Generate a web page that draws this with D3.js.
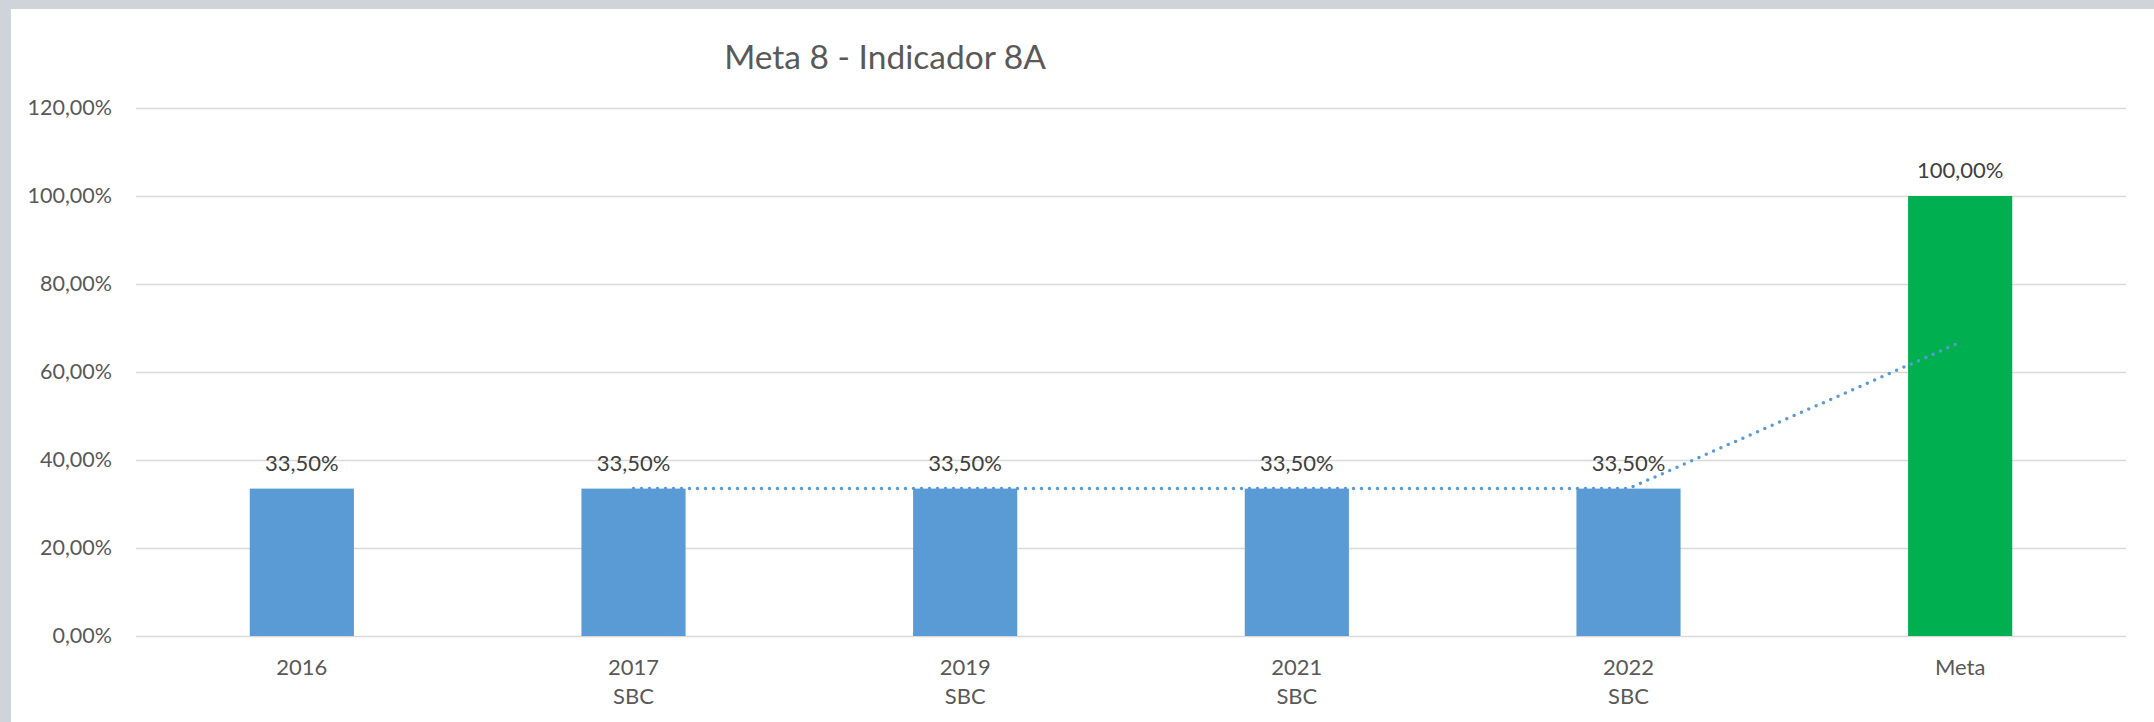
<!DOCTYPE html>
<html>
<head>
<meta charset="utf-8">
<script src="https://cdn.jsdelivr.net/npm/d3@7"></script>
<style>
  html, body { margin: 0; padding: 0; background: #ced4d9; }
  svg { display: block; }
</style>
</head>
<body>
<script>
// Meta 8 - Indicador 8A, bar chart with moving-average trend
var years = ["2016", "2017", "2019", "2021", "2022", "Meta"];
var subLabels = ["", "SBC", "SBC", "SBC", "SBC", ""];
var values = [33.5, 33.5, 33.5, 33.5, 33.5, 100];
var yTicks = [0, 20, 40, 60, 80, 100, 120];
var colors = ["#5b9bd5", "#5b9bd5", "#5b9bd5", "#5b9bd5", "#5b9bd5", "#00b050"];

var width = 2154, height = 722;
var fontFam = "Lato, 'Open Sans', sans-serif";

var svg = d3.select("body").append("svg")
    .attr("width", width)
    .attr("height", height);

// white chart area inside the grey frame
svg.append("rect")
    .attr("x", 11).attr("y", 9)
    .attr("width", width - 11).attr("height", height - 9)
    .attr("fill", "#ffffff");

var x = d3.scaleBand()
    .domain(years)
    .range([136, 2126])
    .paddingInner(0.686)
    .paddingOuter(0.343);

var y = d3.scaleLinear()
    .domain([0, 120])
    .range([636, 108]);

var fmt = function(d) { return d.toFixed(2).replace(".", ",") + "%"; };

// gridlines + y labels
var yAxis = svg.append("g")
    .attr("transform", "translate(136,0)")
    .call(d3.axisLeft(y)
        .tickValues(yTicks)
        .tickSize(-(2126 - 136))
        .tickPadding(24)
        .tickFormat(fmt));
yAxis.select(".domain").remove();
yAxis.selectAll(".tick line")
    .attr("stroke", "#d9d9d9")
    .attr("stroke-width", 1.5);
yAxis.selectAll(".tick text")
    .attr("fill", "#595959")
    .style("font-family", fontFam)
    .style("font-size", "21.5px");

// bars
svg.append("g").selectAll("rect")
    .data(values)
    .enter().append("rect")
    .attr("x", function(d, i) { return x(years[i]); })
    .attr("y", function(d) { return y(d); })
    .attr("width", x.bandwidth())
    .attr("height", function(d) { return y(0) - y(d); })
    .attr("fill", function(d, i) { return colors[i]; });

// data labels
svg.append("g").selectAll("text")
    .data(values)
    .enter().append("text")
    .attr("x", function(d, i) { return x(years[i]) + x.bandwidth() / 2; })
    .attr("y", function(d) { return y(d) - 18; })
    .attr("text-anchor", "middle")
    .attr("fill", "#404040")
    .style("font-family", fontFam)
    .style("font-size", "22px")
    .text(fmt);

// x labels (two lines)
var xAxis = svg.append("g")
    .attr("transform", "translate(0," + y(0) + ")")
    .call(d3.axisBottom(x).tickSize(0).tickFormat(""));
xAxis.select(".domain").remove();
xAxis.selectAll(".tick").each(function(d, i) {
    var t = d3.select(this).append("text")
        .attr("text-anchor", "middle")
        .attr("fill", "#595959")
        .style("font-family", fontFam)
        .style("font-size", "22px");
    t.append("tspan").attr("x", 0).attr("y", 39).text(d);
    if (subLabels[i]) t.append("tspan").attr("x", 0).attr("y", 68).text(subLabels[i]);
});

// 2-period moving average trendline (as Excel draws it)
var trend = values.slice(1).map(function(v, i) {
    return { cat: years[i + 1], val: (values[i] + v) / 2 };
});
var line = d3.line()
    .x(function(d) { return x(d.cat) + x.bandwidth() / 2; })
    .y(function(d) { return y(d.val); });
svg.append("path")
    .datum(trend)
    .attr("d", line)
    .attr("fill", "none")
    .attr("stroke", "#5b9bd5")
    .attr("stroke-width", 3.5)
    .attr("stroke-linecap", "round")
    .attr("stroke-dasharray", "0,8");

// title
svg.append("text")
    .attr("x", 885)
    .attr("y", 69)
    .attr("text-anchor", "middle")
    .attr("fill", "#595959")
    .style("font-family", fontFam)
    .style("font-size", "33.5px")
    .text("Meta 8 - Indicador 8A");
</script>
</body>
</html>
